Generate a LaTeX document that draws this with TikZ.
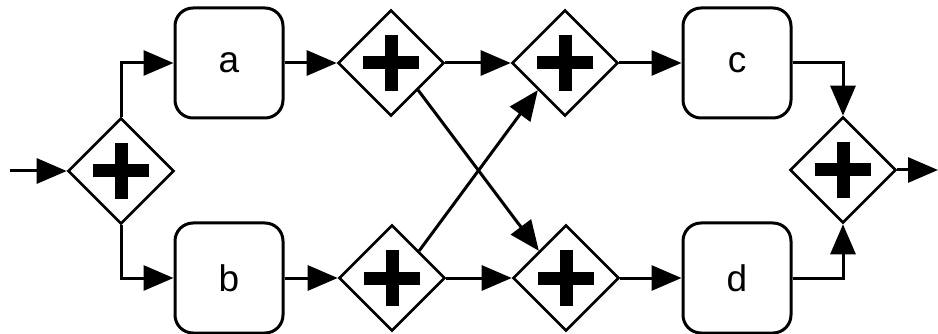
\documentclass[tikz,border=0pt]{standalone}
\usepackage{fontspec}
\setmainfont{Liberation Sans}
\usetikzlibrary{shapes.geometric,arrows.meta,calc}
\begin{document}
\begin{tikzpicture}[x=1pt,y=-1pt,
  line width=3pt,
  task/.style={draw, rounded corners=18pt, minimum width=108pt, minimum height=110pt, inner sep=0pt, font=\fontsize{37}{40}\selectfont},
  gate/.style={draw, diamond, line width=2.6pt, minimum width=106pt, minimum height=106pt, inner sep=0pt,
    path picture={
      \fill ([xshift=-28pt,yshift=-6.5pt]path picture bounding box.center) rectangle ([xshift=28pt,yshift=6.5pt]path picture bounding box.center);
      \fill ([xshift=-6.5pt,yshift=-28pt]path picture bounding box.center) rectangle ([xshift=6.5pt,yshift=28pt]path picture bounding box.center);
    }},
  flow/.style={-{Triangle[length=30pt,width=25pt]}, line width=3pt}
]
\useasboundingbox (0,0) rectangle (938,334);
\coordinate (in) at (10,171);
\coordinate (out) at (938,170);
\node[gate] (g1) at (121,171) {};
\node[task] (a) at (229,63) {a};
\node[task] (b) at (229,278) {b};
\node[gate] (g2) at (391,63) {};
\node[gate] (g3) at (392,278) {};
\node[gate] (g4) at (565,63) {};
\node[gate] (g5) at (566,278) {};
\node[task] (c) at (737,63) {c};
\node[task] (d) at (737,278) {d};
\node[gate] (g6) at (843,170) {};

\draw[flow] (in) -- (g1.west);
\draw[flow] (g1.north) |- (a.west);
\draw[flow] (g1.south) |- (b.west);
\draw[flow] (a.east) -- (g2.west);
\draw[flow] (b.east) -- (g3.west);
\draw[flow] (g2.east) -- (g4.west);
\draw[flow] (g3.east) -- (g5.west);
\draw[flow] ($(g2.south)!0.5!(g2.east)$) -- ($(g5.north)!0.5!(g5.west)$);
\draw[flow] ($(g3.north)!0.5!(g3.east)$) -- ($(g4.south)!0.5!(g4.west)$);
\draw[flow] (g4.east) -- (c.west);
\draw[flow] (g5.east) -- (d.west);
\draw[flow] (c.east) -| (g6.north);
\draw[flow] (d.east) -| (g6.south);
\draw[flow] (g6.east) -- (out);
\end{tikzpicture}
\end{document}
